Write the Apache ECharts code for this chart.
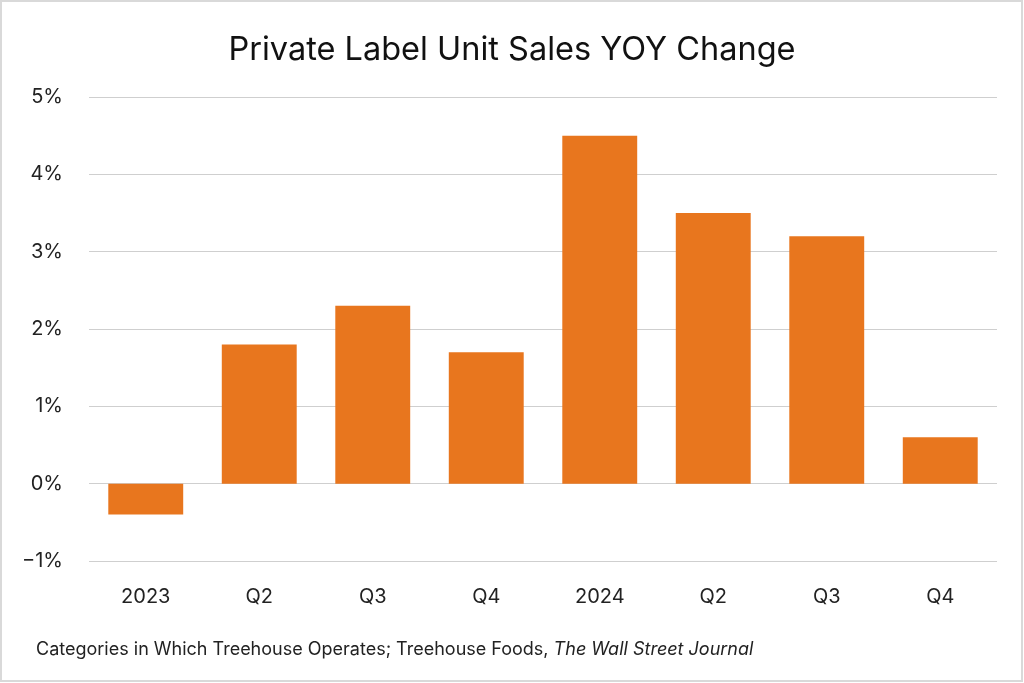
<!DOCTYPE html>
<html>
<head>
<meta charset="utf-8">
<script src="https://cdn.jsdelivr.net/npm/echarts@6/dist/echarts.min.js"></script>
<style>
  html, body { margin: 0; padding: 0; background: #fff; }
  #chart { width: 1024px; height: 683px; }
</style>
</head>
<body>
<div id="chart"></div>
<script>
var categories = ["2023", "Q2", "Q3", "Q4", "2024", "Q2", "Q3", "Q4"]
var yoyChange = [-0.4, 1.8, 2.3, 1.7, 4.5, 3.5, 3.2, 0.6]

var fontName = "Inter, 'Open Sans', sans-serif"
var chart = echarts.init(document.querySelector("#chart"))

var option = {
    backgroundColor: "#fff",
    animation: false,
    title: {
        text: "Private Label Unit Sales YOY Change",
        left: "center",
        top: 29,
        textStyle: {
            fontFamily: fontName,
            fontSize: 32.5,
            fontWeight: "normal",
            color: "#111"
        }
    },
    graphic: [
        {
            type: "rect",
            shape: { x: 1, y: 1, width: 1021, height: 680 },
            style: { fill: "none", stroke: "#d9d9d9", lineWidth: 2 }
        },
        {
            type: "text",
            left: 36,
            top: 641,
            style: {
                text: "{n|Categories in Which Treehouse Operates; Treehouse Foods, }{i|The Wall Street Journal}",
                rich: {
                    n: { fontFamily: fontName, fontSize: 18, fill: "#222" },
                    i: { fontFamily: fontName, fontSize: 18, fontStyle: "italic", fill: "#222" }
                }
            }
        }
    ],
    grid: {
        left: 89,
        right: 27,
        top: 97,
        bottom: 122
    },
    xAxis: {
        type: "category",
        data: categories,
        axisLine: { show: false },
        axisTick: { show: false },
        axisLabel: {
            fontFamily: fontName,
            fontSize: 20,
            color: "#222",
            margin: 26
        }
    },
    yAxis: {
        type: "value",
        min: -1,
        max: 5,
        interval: 1,
        axisLabel: {
            fontFamily: fontName,
            fontSize: 20,
            color: "#222",
            margin: 26,
            formatter: function (v) { return (v < 0 ? "\u2212" + Math.abs(v) : v) + "%" }
        },
        splitLine: { lineStyle: { color: "#cfcfcf", width: 1 } }
    },
    series: [{
        type: "bar",
        data: yoyChange,
        barCategoryGap: "34%",
        itemStyle: { color: "#E8761E" }
    }]
}

chart.setOption(option)
</script>
</body>
</html>
